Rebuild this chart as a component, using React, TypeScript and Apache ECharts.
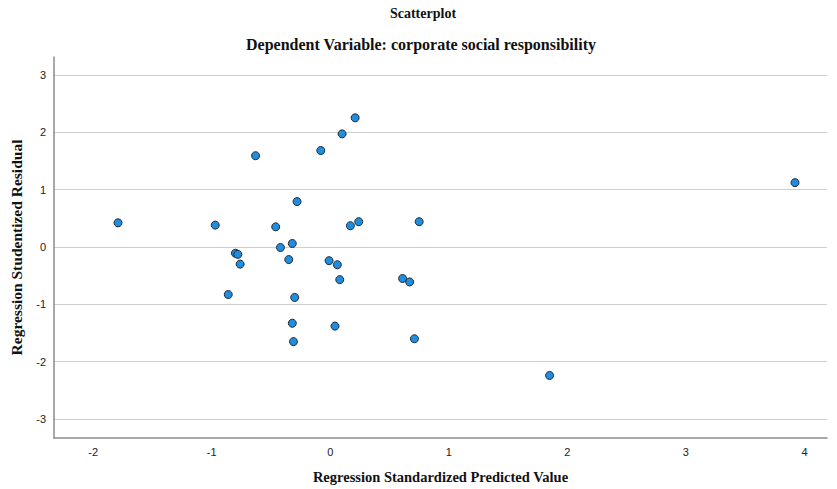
import React, { useEffect, useRef } from "react";
import * as echarts from "echarts";

const titleText = "Scatterplot";
const subtitleText = "Dependent Variable: corporate social responsibility";
const xAxisName = "Regression Standardized Predicted Value";
const yAxisName = "Regression Studentized Residual";

const xTicks = [-2, -1, 0, 1, 2, 3, 4];
const yTicks = [-3, -2, -1, 0, 1, 2, 3];

// Predicted (x) and residual (y) values
const predicted = [
  -1.79, -0.97, -0.63, -0.46, -0.42, -0.32, -0.28, -0.8, -0.78, -0.76,
  -0.86, -0.35, -0.3, -0.32, -0.31, 0.21, 0.1, -0.08, 0.17, 0.24,
  0.75, -0.01, 0.06, 0.08, 0.61, 0.67, 0.04, 0.71, 1.85, 3.92,
];
const residual = [
  0.42, 0.38, 1.59, 0.35, -0.01, 0.06, 0.79, -0.11, -0.13, -0.3,
  -0.83, -0.22, -0.88, -1.33, -1.65, 2.25, 1.97, 1.68, 0.37, 0.44,
  0.44, -0.24, -0.31, -0.57, -0.55, -0.61, -1.38, -1.6, -2.24, 1.12,
];

export default function App() {
  const ref = useRef<HTMLDivElement>(null);
  useEffect(() => {
    if (!ref.current) return;
    const chart = echarts.init(ref.current, null, { renderer: "svg" });
    const points = predicted.map((x, i) => [x, residual[i]]);
    chart.setOption({
      animation: false,
      backgroundColor: "#ffffff",
      graphic: [
        {
          type: "text",
          x: 423,
          y: 13,
          style: {
            text: titleText,
            align: "center",
            verticalAlign: "middle",
            fontFamily: "Liberation Serif",
            fontWeight: "bold",
            fontSize: 14,
            fill: "#111",
          },
        },
        {
          type: "text",
          x: 421,
          y: 44,
          style: {
            text: subtitleText,
            align: "center",
            verticalAlign: "middle",
            fontFamily: "Liberation Serif",
            fontWeight: "bold",
            fontSize: 16,
            fill: "#111",
          },
        },
      ],
      grid: { left: 54, right: 10, top: 57, bottom: 50, containLabel: false },
      xAxis: {
        type: "value",
        min: -2.33,
        max: 4.19,
        name: xAxisName,
        nameLocation: "middle",
        nameGap: 31,
        nameTextStyle: {
          fontFamily: "Liberation Serif",
          fontWeight: "bold",
          fontSize: 14.5,
          color: "#111",
        },
        axisLine: { show: true, onZero: false, lineStyle: { color: "#8c8c8c", width: 1.5 } },
        axisTick: { show: false, customValues: xTicks },
        splitLine: { show: false },
        axisLabel: {
          customValues: xTicks,
          margin: 8,
          fontFamily: "Liberation Sans",
          fontSize: 11,
          color: "#222",
        },
      },
      yAxis: {
        type: "value",
        min: -3.33,
        max: 3.31,
        name: yAxisName,
        nameLocation: "middle",
        nameGap: 30,
        nameRotate: 90,
        nameTextStyle: {
          fontFamily: "Liberation Serif",
          fontWeight: "bold",
          fontSize: 15.5,
          color: "#111",
        },
        axisLine: { show: true, onZero: false, lineStyle: { color: "#8c8c8c", width: 1.5 } },
        axisTick: { show: false, customValues: yTicks },
        splitLine: { show: true, lineStyle: { color: "#cfcfcf", width: 1 } },
        axisLabel: {
          customValues: yTicks,
          margin: 8,
          fontFamily: "Liberation Sans",
          fontSize: 11,
          color: "#222",
        },
      },
      series: [
        {
          type: "scatter",
          data: points,
          symbol: "circle",
          symbolSize: 8,
          itemStyle: {
            color: "#1f8ee0",
            borderColor: "#1f2a33",
            borderWidth: 1,
            opacity: 1,
          },
          emphasis: { disabled: true },
        },
      ],
    });
    return () => chart.dispose();
  }, []);
  return (
    <div
      ref={ref}
      style={{ position: "fixed", left: 0, top: 0, width: 837, height: 489 }}
    />
  );
}
